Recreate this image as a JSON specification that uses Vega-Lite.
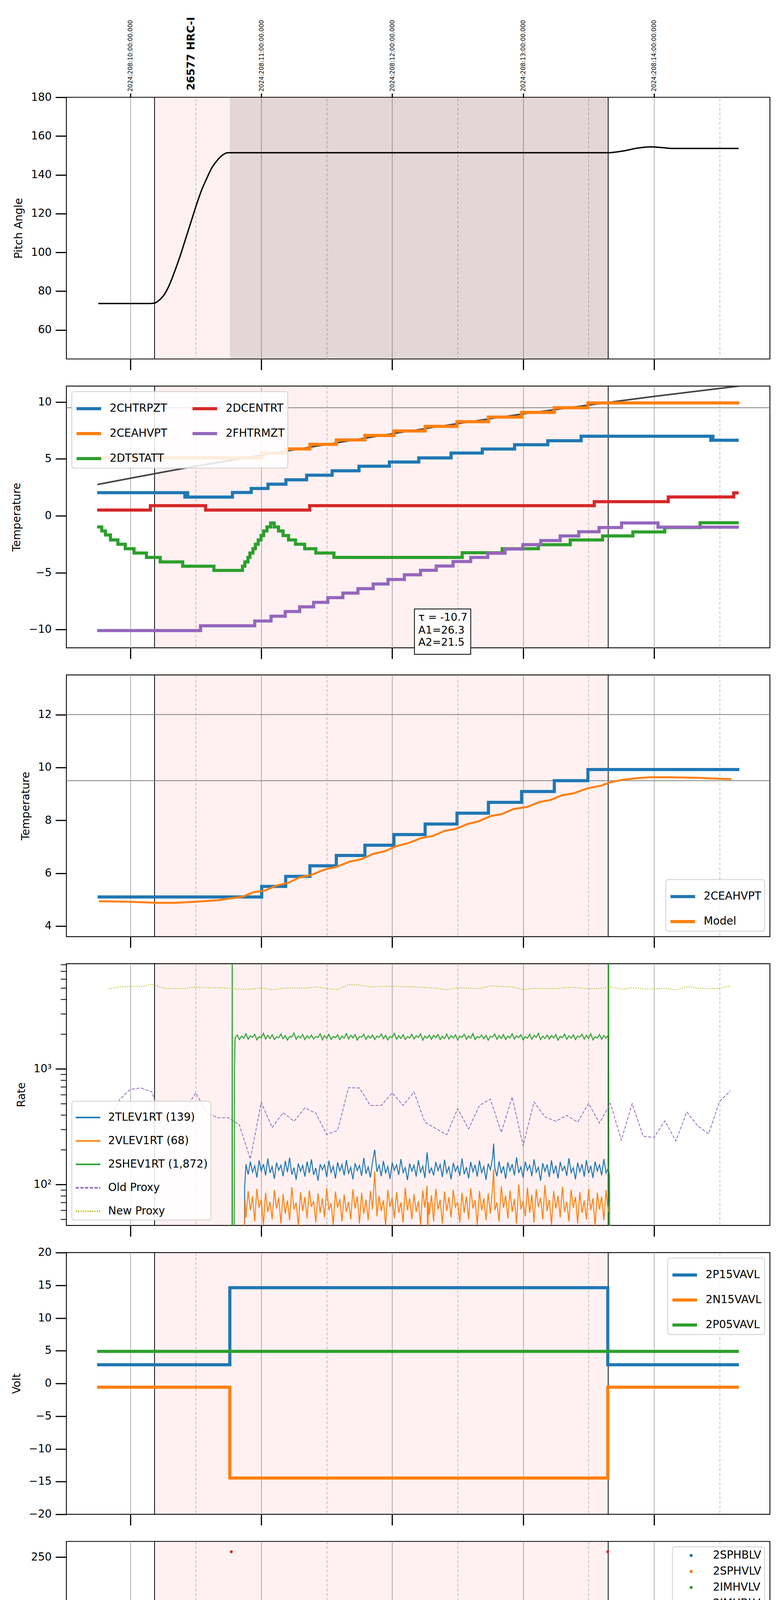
{
  "$schema": "https://vega.github.io/schema/vega-lite/v6.json",
  "background": "white",
  "padding": {"left": 25, "top": 41, "right": 30, "bottom": 10},
  "bounds": "flush",
  "spacing": 69.4,
  "resolve": {"scale": {"x": "independent", "y": "independent", "color": "independent", "strokeDash": "independent"}},
  "config": {
    "font": "DejaVu Sans",
    "view": {"stroke": "black", "strokeWidth": 2.2},
    "axis": {"domain": false, "labelFont": "DejaVu Sans", "labelFontSize": 27.8, "labelColor": "black", "titleFont": "DejaVu Sans", "titleFontSize": 27.8, "titleFontWeight": "normal", "titleColor": "black", "tickColor": "black", "tickWidth": 3, "tickSize": 28, "labelOverlap": false, "labelFlush": false, "labelBound": false, "labelLimit": 500, "grid": false},
    "axisY": {"labelPadding": 10, "titlePadding": 16},
    "axisX": {"labelPadding": 9},
    "legend": {"labelFont": "DejaVu Sans", "labelFontSize": 27.8, "labelColor": "black", "symbolType": "stroke", "symbolSize": 3969, "symbolStrokeWidth": 8, "fillColor": "rgba(255,255,255,0.85)", "strokeColor": "#d0d0d0", "strokeWidth": 2, "cornerRadius": 6, "padding": 8, "rowPadding": 12, "labelOffset": 18, "offset": 14, "labelLimit": 500}
  },
  "datasets": {
    "shade": [{"t": 371.1, "t2": 579.0}],
    "dark": [{"t": 405.6, "t2": 579.0}],
    "vlines": [{"t": 371.1}, {"t": 579.0}],
    "pitch": [{"t":345.3,"v":73.6},{"t":368.6,"v":73.6},{"t":371.0,"v":73.8},{"t":373.4,"v":75.5},{"t":375.8,"v":78.6},{"t":378.2,"v":84.0},{"t":380.6,"v":91.0},{"t":383.0,"v":98.7},{"t":385.4,"v":107.2},{"t":387.8,"v":115.7},{"t":390.2,"v":124.2},{"t":392.6,"v":131.9},{"t":395.0,"v":138.1},{"t":397.3,"v":143.5},{"t":399.7,"v":147.3},{"t":402.1,"v":150.0},{"t":404.5,"v":151.4},{"t":406.9,"v":151.4},{"t":578.9,"v":151.4},{"t":585.8,"v":152.3},{"t":592.6,"v":153.8},{"t":598.3,"v":154.4},{"t":604.0,"v":154.0},{"t":608.6,"v":153.6},{"t":638.8,"v":153.6}],
    "chtr": [{"t":344.8,"v":2.03},{"t":385.0,"v":1.65},{"t":385.5,"v":2.03},{"t":386.3,"v":1.65},{"t":406.8,"v":2.05},{"t":415.4,"v":2.4},{"t":423.1,"v":2.78},{"t":431.3,"v":3.17},{"t":440.8,"v":3.57},{"t":452.5,"v":3.96},{"t":464.8,"v":4.36},{"t":478.7,"v":4.73},{"t":492.2,"v":5.09},{"t":507.0,"v":5.52},{"t":521.3,"v":5.87},{"t":536.1,"v":6.25},{"t":551.3,"v":6.6},{"t":566.6,"v":6.99},{"t":626.0,"v":6.64},{"t":626.4,"v":6.99},{"t":627.0,"v":6.64},{"t":638.8,"v":6.64}],
    "ceah": [{"t":345.0,"v":5.1},{"t":420.2,"v":5.5},{"t":431.2,"v":5.88},{"t":442.3,"v":6.28},{"t":454.4,"v":6.67},{"t":467.5,"v":7.06},{"t":480.8,"v":7.46},{"t":495.1,"v":7.86},{"t":509.7,"v":8.27},{"t":524.1,"v":8.68},{"t":539.3,"v":9.09},{"t":554.3,"v":9.5},{"t":569.7,"v":9.92},{"t":639.1,"v":9.92}],
    "dtst": [{"t":344.8,"v":-0.98},{"t":346.9,"v":-1.33},{"t":348.6,"v":-1.68},{"t":350.9,"v":-2.12},{"t":354.3,"v":-2.5},{"t":357.7,"v":-2.89},{"t":361.7,"v":-3.27},{"t":367.4,"v":-3.66},{"t":373.7,"v":-4.05},{"t":384.0,"v":-4.43},{"t":398.3,"v":-4.8},{"t":411.4,"v":-4.43},{"t":412.5,"v":-4.05},{"t":413.9,"v":-3.66},{"t":414.8,"v":-3.27},{"t":416.2,"v":-2.89},{"t":417.3,"v":-2.5},{"t":418.6,"v":-2.12},{"t":419.9,"v":-1.73},{"t":421.1,"v":-1.33},{"t":422.6,"v":-0.98},{"t":424.3,"v":-0.63},{"t":425.9,"v":-0.98},{"t":427.9,"v":-1.33},{"t":430.0,"v":-1.73},{"t":432.5,"v":-2.12},{"t":435.7,"v":-2.5},{"t":439.9,"v":-2.89},{"t":445.0,"v":-3.27},{"t":453.3,"v":-3.66},{"t":512.1,"v":-3.24},{"t":530.4,"v":-2.89},{"t":547.0,"v":-2.54},{"t":561.6,"v":-2.12},{"t":576.4,"v":-1.77},{"t":590.3,"v":-1.42},{"t":604.9,"v":-1.03},{"t":621.1,"v":-0.61},{"t":638.8,"v":-0.61}],
    "dcen": [{"t":344.8,"v":0.51},{"t":369.2,"v":0.89},{"t":394.5,"v":0.51},{"t":442.2,"v":0.89},{"t":572.6,"v":1.24},{"t":606.5,"v":1.66},{"t":636.5,"v":2.02},{"t":638.8,"v":2.02}],
    "fhtr": [{"t":344.8,"v":-10.08},{"t":392.2,"v":-9.66},{"t":417.0,"v":-9.24},{"t":424.5,"v":-8.82},{"t":431.0,"v":-8.41},{"t":437.6,"v":-8.0},{"t":444.0,"v":-7.6},{"t":450.5,"v":-7.19},{"t":457.4,"v":-6.79},{"t":464.3,"v":-6.4},{"t":471.3,"v":-5.99},{"t":478.1,"v":-5.6},{"t":485.6,"v":-5.18},{"t":493.0,"v":-4.79},{"t":500.2,"v":-4.41},{"t":507.9,"v":-4.02},{"t":516.0,"v":-3.66},{"t":523.8,"v":-3.29},{"t":531.7,"v":-2.92},{"t":539.9,"v":-2.53},{"t":548.1,"v":-2.17},{"t":557.0,"v":-1.77},{"t":565.5,"v":-1.4},{"t":574.8,"v":-1.03},{"t":585.1,"v":-0.63},{"t":601.8,"v":-1.0},{"t":638.9,"v":-1.0}],
    "trend": [{"t":344.9,"v":2.75},{"t":390,"v":4.36},{"t":419.9,"v":5.32},{"t":479.6,"v":7.2},{"t":539.9,"v":8.95},{"t":578.9,"v":9.96},{"t":599.8,"v":10.49},{"t":638.8,"v":11.4}],
    "fitbox": [{"t":490.2,"t2":516.0,"v":-12.17,"v2":-8.19}],
    "fittext": [{"t":492.0,"v":-8.94,"txt":"τ = -10.7"},{"t":492.0,"v":-10.06,"txt":"A1=26.3"},{"t":492.0,"v":-11.14,"txt":"A2=21.5"}],
    "hlines2": [{"v": 9.5}],
    "hlines3": [{"v": 12}, {"v": 9.5}],
    "model": [{"t":345.6,"v":4.94},{"t":359.4,"v":4.92},{"t":372.0,"v":4.88},{"t":380.5,"v":4.88},{"t":390.0,"v":4.92},{"t":400.5,"v":4.98},{"t":405.8,"v":5.05},{"t":411.1,"v":5.1},{"t":416.4,"v":5.28},{"t":421.7,"v":5.34},{"t":426.9,"v":5.53},{"t":432.2,"v":5.63},{"t":437.5,"v":5.84},{"t":442.8,"v":5.93},{"t":449.1,"v":6.14},{"t":454.4,"v":6.24},{"t":460.7,"v":6.44},{"t":466.0,"v":6.53},{"t":471.3,"v":6.73},{"t":476.6,"v":6.83},{"t":481.8,"v":7.02},{"t":487.1,"v":7.13},{"t":493.4,"v":7.33},{"t":498.7,"v":7.41},{"t":504.0,"v":7.6},{"t":509.3,"v":7.68},{"t":514.6,"v":7.86},{"t":519.8,"v":7.97},{"t":525.1,"v":8.16},{"t":530.4,"v":8.24},{"t":535.7,"v":8.43},{"t":542.0,"v":8.51},{"t":547.3,"v":8.69},{"t":552.6,"v":8.77},{"t":557.9,"v":8.95},{"t":563.1,"v":9.02},{"t":569.5,"v":9.21},{"t":575.8,"v":9.31},{"t":580.0,"v":9.44},{"t":585.3,"v":9.53},{"t":591.6,"v":9.59},{"t":598.0,"v":9.63},{"t":606.4,"v":9.63},{"t":619.1,"v":9.61},{"t":627.5,"v":9.58},{"t":635.5,"v":9.56}],
    "oldproxy": [{"t":350,"v":340},{"t":355,"v":541},{"t":360,"v":666},{"t":365,"v":683},{"t":370,"v":631},{"t":375,"v":297},{"t":380,"v":393},{"t":385,"v":440},{"t":390,"v":620},{"t":395,"v":422},{"t":400,"v":378},{"t":405,"v":378},{"t":410,"v":328},{"t":415,"v":166},{"t":420,"v":513},{"t":425,"v":311},{"t":430,"v":419},{"t":435,"v":352},{"t":440,"v":460},{"t":445,"v":414},{"t":450,"v":271},{"t":455,"v":294},{"t":460,"v":688},{"t":465,"v":683},{"t":470,"v":483},{"t":475,"v":483},{"t":480,"v":620},{"t":485,"v":483},{"t":490,"v":631},{"t":495,"v":346},{"t":500,"v":305},{"t":505,"v":269},{"t":510,"v":452},{"t":515,"v":303},{"t":520,"v":483},{"t":525,"v":547},{"t":530,"v":282},{"t":535,"v":571},{"t":540,"v":216},{"t":545,"v":518},{"t":550,"v":385},{"t":555,"v":352},{"t":560,"v":396},{"t":565,"v":346},{"t":570,"v":504},{"t":575,"v":340},{"t":580,"v":504},{"t":585,"v":242},{"t":590,"v":500},{"t":595,"v":262},{"t":600,"v":255},{"t":605,"v":355},{"t":610,"v":238},{"t":615,"v":425},{"t":620,"v":322},{"t":625,"v":274},{"t":630,"v":522},{"t":635,"v":647}],
    "newproxy": [{"t":350,"v":4886},{"t":355,"v":5117},{"t":360,"v":5150},{"t":365,"v":5150},{"t":370,"v":5395},{"t":375,"v":4975},{"t":380,"v":4940},{"t":385,"v":4940},{"t":390,"v":5117},{"t":395,"v":5025},{"t":400,"v":5025},{"t":405,"v":4975},{"t":410,"v":4886},{"t":415,"v":4886},{"t":420,"v":5000},{"t":425,"v":4834},{"t":430,"v":4975},{"t":435,"v":5000},{"t":440,"v":4975},{"t":445,"v":5117},{"t":450,"v":4940},{"t":455,"v":4834},{"t":460,"v":5346},{"t":465,"v":5300},{"t":470,"v":5117},{"t":475,"v":5150},{"t":480,"v":5190},{"t":485,"v":5117},{"t":490,"v":5117},{"t":495,"v":5059},{"t":500,"v":4975},{"t":505,"v":4834},{"t":510,"v":5025},{"t":515,"v":4975},{"t":520,"v":4940},{"t":525,"v":5210},{"t":530,"v":5150},{"t":535,"v":5117},{"t":540,"v":4852},{"t":545,"v":4975},{"t":550,"v":4940},{"t":555,"v":4940},{"t":560,"v":5059},{"t":565,"v":5025},{"t":570,"v":4921},{"t":575,"v":4940},{"t":580,"v":5117},{"t":585,"v":4886},{"t":590,"v":5025},{"t":595,"v":4921},{"t":600,"v":4886},{"t":605,"v":4975},{"t":610,"v":4801},{"t":615,"v":5150},{"t":620,"v":4975},{"t":625,"v":4940},{"t":630,"v":4975},{"t":635,"v":5250}],
    "shev": [{"t":406.6,"v":30},{"t":406.7,"v":30000},{"t":406.8,"v":30},{"t":407.6,"v":30},{"t":407.7,"v":900},{"t":408,"v":1850},{"t":409,"v":1960},{"t":410,"v":1790},{"t":411,"v":1920},{"t":412,"v":1840},{"t":413,"v":2010},{"t":414,"v":1800},{"t":415,"v":1930},{"t":416,"v":1870},{"t":417,"v":1990},{"t":418,"v":1780},{"t":419,"v":1900},{"t":420,"v":1850},{"t":421,"v":2030},{"t":422,"v":1810},{"t":423,"v":1950},{"t":424,"v":1830},{"t":425,"v":1970},{"t":426,"v":1790},{"t":427,"v":1890},{"t":428,"v":1860},{"t":429,"v":2000},{"t":430,"v":1820},{"t":431,"v":1940},{"t":432,"v":1770},{"t":433,"v":1910},{"t":434,"v":1880},{"t":435,"v":2040},{"t":436,"v":1800},{"t":437,"v":1920},{"t":438,"v":1850},{"t":439,"v":1980},{"t":440,"v":1790},{"t":441,"v":1930},{"t":442,"v":1840},{"t":443,"v":1960},{"t":444,"v":1810},{"t":445,"v":1900},{"t":446,"v":1870},{"t":447,"v":2010},{"t":448,"v":1780},{"t":449,"v":1940},{"t":450,"v":1830},{"t":451,"v":1990},{"t":452,"v":1800},{"t":453,"v":1910},{"t":454,"v":1860},{"t":455,"v":1970},{"t":456,"v":1790},{"t":457,"v":1920},{"t":458,"v":1840},{"t":459,"v":2020},{"t":460,"v":1810},{"t":461,"v":1950},{"t":462,"v":1850},{"t":463,"v":1980},{"t":464,"v":1770},{"t":465,"v":1900},{"t":466,"v":1880},{"t":467,"v":1990},{"t":468,"v":1800},{"t":469,"v":1930},{"t":470,"v":1840},{"t":471,"v":1960},{"t":472,"v":1790},{"t":473,"v":1920},{"t":474,"v":1870},{"t":475,"v":2000},{"t":476,"v":1820},{"t":477,"v":1950},{"t":478,"v":1780},{"t":479,"v":1910},{"t":480,"v":1860},{"t":481,"v":2030},{"t":482,"v":1800},{"t":483,"v":1940},{"t":484,"v":1830},{"t":485,"v":1970},{"t":486,"v":1790},{"t":487,"v":1900},{"t":488,"v":1850},{"t":489,"v":1990},{"t":490,"v":1810},{"t":491,"v":1930},{"t":492,"v":1870},{"t":493,"v":2010},{"t":494,"v":1770},{"t":495,"v":1920},{"t":496,"v":1840},{"t":497,"v":1960},{"t":498,"v":1800},{"t":499,"v":1950},{"t":500,"v":1860},{"t":501,"v":1980},{"t":502,"v":1790},{"t":503,"v":1910},{"t":504,"v":1830},{"t":505,"v":2000},{"t":506,"v":1810},{"t":507,"v":1940},{"t":508,"v":1850},{"t":509,"v":1970},{"t":510,"v":1780},{"t":511,"v":1920},{"t":512,"v":1870},{"t":513,"v":1990},{"t":514,"v":1800},{"t":515,"v":1930},{"t":516,"v":1840},{"t":517,"v":2020},{"t":518,"v":1790},{"t":519,"v":1900},{"t":520,"v":1860},{"t":521,"v":1960},{"t":522,"v":1820},{"t":523,"v":1950},{"t":524,"v":1770},{"t":525,"v":1910},{"t":526,"v":1880},{"t":527,"v":2000},{"t":528,"v":1800},{"t":529,"v":1940},{"t":530,"v":1830},{"t":531,"v":1980},{"t":532,"v":1790},{"t":533,"v":1920},{"t":534,"v":1850},{"t":535,"v":2010},{"t":536,"v":1810},{"t":537,"v":1930},{"t":538,"v":1860},{"t":539,"v":1970},{"t":540,"v":1780},{"t":541,"v":1900},{"t":542,"v":1840},{"t":543,"v":1990},{"t":544,"v":1800},{"t":545,"v":1950},{"t":546,"v":1870},{"t":547,"v":2030},{"t":548,"v":1790},{"t":549,"v":1920},{"t":550,"v":1830},{"t":551,"v":1960},{"t":552,"v":1810},{"t":553,"v":1940},{"t":554,"v":1850},{"t":555,"v":1980},{"t":556,"v":1770},{"t":557,"v":1910},{"t":558,"v":1860},{"t":559,"v":2000},{"t":560,"v":1800},{"t":561,"v":1930},{"t":562,"v":1840},{"t":563,"v":1970},{"t":564,"v":1790},{"t":565,"v":1920},{"t":566,"v":1880},{"t":567,"v":1990},{"t":568,"v":1810},{"t":569,"v":1950},{"t":570,"v":1830},{"t":571,"v":2010},{"t":572,"v":1780},{"t":573,"v":1900},{"t":574,"v":1850},{"t":575,"v":1980},{"t":576,"v":1800},{"t":577,"v":1940},{"t":578,"v":1840},{"t":579,"v":1960},{"t":579.2,"v":30000},{"t":579.3,"v":30}],
    "tlev": [{"t":412.3,"v":30},{"t":412.4,"v":95},{"t":413,"v":150},{"t":414,"v":122},{"t":415,"v":158},{"t":416,"v":128},{"t":417,"v":145},{"t":418,"v":115},{"t":419,"v":162},{"t":420,"v":131},{"t":421,"v":150},{"t":422,"v":120},{"t":423,"v":168},{"t":424,"v":126},{"t":425,"v":143},{"t":426,"v":112},{"t":427,"v":155},{"t":428,"v":133},{"t":429,"v":147},{"t":430,"v":118},{"t":431,"v":160},{"t":432,"v":128},{"t":433,"v":171},{"t":434,"v":122},{"t":435,"v":140},{"t":436,"v":110},{"t":437,"v":152},{"t":438,"v":130},{"t":439,"v":146},{"t":440,"v":117},{"t":441,"v":158},{"t":442,"v":126},{"t":443,"v":165},{"t":444,"v":121},{"t":445,"v":139},{"t":446,"v":108},{"t":447,"v":150},{"t":448,"v":134},{"t":449,"v":148},{"t":450,"v":116},{"t":451,"v":161},{"t":452,"v":127},{"t":453,"v":144},{"t":454,"v":113},{"t":455,"v":156},{"t":456,"v":131},{"t":457,"v":149},{"t":458,"v":120},{"t":459,"v":163},{"t":460,"v":125},{"t":461,"v":141},{"t":462,"v":111},{"t":463,"v":153},{"t":464,"v":132},{"t":465,"v":146},{"t":466,"v":119},{"t":467,"v":170},{"t":468,"v":124},{"t":469,"v":142},{"t":470,"v":115},{"t":471,"v":158},{"t":472,"v":200},{"t":473,"v":129},{"t":474,"v":147},{"t":475,"v":118},{"t":476,"v":160},{"t":477,"v":126},{"t":478,"v":143},{"t":479,"v":112},{"t":480,"v":155},{"t":481,"v":133},{"t":482,"v":148},{"t":483,"v":121},{"t":484,"v":166},{"t":485,"v":127},{"t":486,"v":140},{"t":487,"v":109},{"t":488,"v":152},{"t":489,"v":131},{"t":490,"v":147},{"t":491,"v":117},{"t":492,"v":162},{"t":493,"v":128},{"t":494,"v":144},{"t":495,"v":114},{"t":496,"v":190},{"t":497,"v":125},{"t":498,"v":139},{"t":499,"v":120},{"t":500,"v":157},{"t":501,"v":132},{"t":502,"v":149},{"t":503,"v":116},{"t":504,"v":164},{"t":505,"v":126},{"t":506,"v":142},{"t":507,"v":111},{"t":508,"v":154},{"t":509,"v":130},{"t":510,"v":145},{"t":511,"v":119},{"t":512,"v":168},{"t":513,"v":123},{"t":514,"v":141},{"t":515,"v":113},{"t":516,"v":157},{"t":517,"v":129},{"t":518,"v":148},{"t":519,"v":117},{"t":520,"v":161},{"t":521,"v":127},{"t":522,"v":143},{"t":523,"v":110},{"t":524,"v":152},{"t":525,"v":134},{"t":526,"v":170},{"t":526.5,"v":226},{"t":527,"v":140},{"t":528,"v":118},{"t":529,"v":159},{"t":530,"v":125},{"t":531,"v":144},{"t":532,"v":112},{"t":533,"v":156},{"t":534,"v":131},{"t":535,"v":150},{"t":536,"v":120},{"t":537,"v":172},{"t":538,"v":126},{"t":539,"v":142},{"t":540,"v":115},{"t":541,"v":158},{"t":542,"v":133},{"t":543,"v":147},{"t":544,"v":118},{"t":545,"v":165},{"t":546,"v":128},{"t":547,"v":141},{"t":548,"v":108},{"t":549,"v":153},{"t":550,"v":130},{"t":551,"v":149},{"t":552,"v":116},{"t":553,"v":162},{"t":554,"v":124},{"t":555,"v":146},{"t":556,"v":113},{"t":557,"v":157},{"t":558,"v":132},{"t":559,"v":144},{"t":560,"v":119},{"t":561,"v":169},{"t":562,"v":127},{"t":563,"v":140},{"t":564,"v":111},{"t":565,"v":155},{"t":566,"v":129},{"t":567,"v":150},{"t":568,"v":117},{"t":569,"v":163},{"t":570,"v":125},{"t":571,"v":145},{"t":572,"v":114},{"t":573,"v":158},{"t":574,"v":131},{"t":575,"v":148},{"t":576,"v":120},{"t":577,"v":166},{"t":578,"v":126},{"t":579,"v":139},{"t":579.6,"v":120},{"t":579.7,"v":30}],
    "vlev": [{"t":412.3,"v":30},{"t":412.6,"v":75},{"t":413,"v":52},{"t":414,"v":88},{"t":415,"v":60},{"t":416,"v":79},{"t":417,"v":48},{"t":418,"v":92},{"t":419,"v":63},{"t":420,"v":74},{"t":421,"v":45},{"t":422,"v":85},{"t":423,"v":58},{"t":424,"v":71},{"t":425,"v":50},{"t":426,"v":90},{"t":427,"v":62},{"t":428,"v":77},{"t":429,"v":46},{"t":430,"v":83},{"t":431,"v":56},{"t":432,"v":73},{"t":433,"v":49},{"t":434,"v":95},{"t":435,"v":61},{"t":436,"v":70},{"t":437,"v":44},{"t":438,"v":86},{"t":439,"v":59},{"t":440,"v":78},{"t":441,"v":51},{"t":442,"v":89},{"t":443,"v":64},{"t":444,"v":72},{"t":445,"v":47},{"t":446,"v":84},{"t":447,"v":57},{"t":448,"v":76},{"t":449,"v":52},{"t":450,"v":93},{"t":451,"v":60},{"t":452,"v":69},{"t":453,"v":45},{"t":454,"v":87},{"t":455,"v":63},{"t":456,"v":75},{"t":457,"v":48},{"t":458,"v":82},{"t":459,"v":58},{"t":460,"v":71},{"t":461,"v":50},{"t":462,"v":91},{"t":463,"v":62},{"t":464,"v":79},{"t":465,"v":46},{"t":466,"v":85},{"t":467,"v":56},{"t":468,"v":74},{"t":469,"v":49},{"t":470,"v":88},{"t":471,"v":61},{"t":472,"v":130},{"t":473,"v":53},{"t":474,"v":80},{"t":475,"v":59},{"t":476,"v":73},{"t":477,"v":44},{"t":478,"v":90},{"t":479,"v":64},{"t":480,"v":77},{"t":481,"v":51},{"t":482,"v":86},{"t":483,"v":57},{"t":484,"v":70},{"t":485,"v":47},{"t":486,"v":94},{"t":487,"v":60},{"t":488,"v":76},{"t":489,"v":50},{"t":490,"v":83},{"t":491,"v":58},{"t":492,"v":72},{"t":493,"v":45},{"t":494,"v":89},{"t":495,"v":63},{"t":496,"v":98},{"t":496.3,"v":30},{"t":496.6,"v":70},{"t":497,"v":55},{"t":498,"v":81},{"t":499,"v":48},{"t":500,"v":92},{"t":501,"v":61},{"t":502,"v":74},{"t":503,"v":46},{"t":504,"v":87},{"t":505,"v":59},{"t":506,"v":78},{"t":507,"v":52},{"t":508,"v":90},{"t":509,"v":64},{"t":510,"v":71},{"t":511,"v":47},{"t":512,"v":85},{"t":513,"v":57},{"t":514,"v":79},{"t":515,"v":50},{"t":516,"v":93},{"t":517,"v":62},{"t":518,"v":73},{"t":519,"v":45},{"t":520,"v":88},{"t":521,"v":60},{"t":522,"v":76},{"t":523,"v":49},{"t":524,"v":84},{"t":525,"v":56},{"t":526,"v":95},{"t":526.5,"v":136},{"t":527,"v":60},{"t":528,"v":70},{"t":529,"v":48},{"t":530,"v":97},{"t":531,"v":63},{"t":532,"v":80},{"t":533,"v":51},{"t":534,"v":89},{"t":535,"v":58},{"t":536,"v":75},{"t":537,"v":46},{"t":538,"v":100},{"t":539,"v":61},{"t":540,"v":72},{"t":541,"v":53},{"t":542,"v":94},{"t":543,"v":57},{"t":544,"v":82},{"t":545,"v":47},{"t":546,"v":91},{"t":547,"v":64},{"t":548,"v":77},{"t":549,"v":50},{"t":550,"v":99},{"t":551,"v":59},{"t":552,"v":74},{"t":553,"v":45},{"t":554,"v":88},{"t":555,"v":62},{"t":556,"v":80},{"t":557,"v":52},{"t":558,"v":96},{"t":559,"v":58},{"t":560,"v":71},{"t":561,"v":48},{"t":562,"v":90},{"t":563,"v":63},{"t":564,"v":78},{"t":565,"v":46},{"t":566,"v":86},{"t":567,"v":57},{"t":568,"v":73},{"t":569,"v":50},{"t":570,"v":92},{"t":571,"v":60},{"t":572,"v":76},{"t":573,"v":44},{"t":574,"v":85},{"t":575,"v":61},{"t":576,"v":79},{"t":577,"v":49},{"t":578,"v":90},{"t":579,"v":58},{"t":579.5,"v":70},{"t":579.7,"v":30}],
    "p15": [{"t":344.8,"v":2.85},{"t":405.6,"v":14.63},{"t":578.8,"v":2.85},{"t":638.9,"v":2.85}],
    "n15": [{"t":344.8,"v":-0.58},{"t":405.6,"v":-14.46},{"t":578.8,"v":-0.58},{"t":638.9,"v":-0.58}],
    "p05": [{"t":344.8,"v":4.9},{"t":638.9,"v":4.9}],
    "hvg": [{"t":408.8,"v":100},{"t":409.1,"v":98},{"t":409.4,"v":95},{"t":409.8,"v":91},{"t":410.1,"v":89},{"t":410.4,"v":86},{"t":410.7,"v":84},{"t":411.0,"v":82},{"t":411.4,"v":80},{"t":411.8,"v":79},{"t":488.6,"v":127},{"t":491.7,"v":127},{"t":515.6,"v":127},{"t":516.0,"v":127},{"t":412,"v":79},{"t":413,"v":79},{"t":414,"v":79},{"t":415,"v":79},{"t":416,"v":79},{"t":417,"v":79},{"t":418,"v":79},{"t":419,"v":79},{"t":420,"v":79},{"t":421,"v":79},{"t":422,"v":79},{"t":423,"v":79},{"t":424,"v":79},{"t":425,"v":79},{"t":426,"v":79},{"t":427,"v":79},{"t":428,"v":79},{"t":429,"v":79},{"t":430,"v":79},{"t":431,"v":79},{"t":432,"v":79},{"t":433,"v":79},{"t":434,"v":79},{"t":435,"v":79},{"t":436,"v":79},{"t":437,"v":79},{"t":438,"v":79},{"t":439,"v":79},{"t":440,"v":79},{"t":441,"v":79},{"t":442,"v":79},{"t":443,"v":79},{"t":444,"v":79},{"t":445,"v":79},{"t":446,"v":79},{"t":447,"v":79},{"t":448,"v":79},{"t":449,"v":79},{"t":450,"v":79},{"t":451,"v":79},{"t":452,"v":79},{"t":453,"v":79},{"t":454,"v":79},{"t":455,"v":79},{"t":456,"v":79},{"t":457,"v":79},{"t":458,"v":79},{"t":459,"v":79},{"t":460,"v":79},{"t":461,"v":79},{"t":462,"v":79},{"t":463,"v":79},{"t":464,"v":79},{"t":465,"v":79},{"t":466,"v":79},{"t":467,"v":79},{"t":468,"v":79},{"t":469,"v":79},{"t":470,"v":79},{"t":471,"v":79},{"t":472,"v":79},{"t":473,"v":79},{"t":474,"v":79},{"t":475,"v":79},{"t":476,"v":79},{"t":477,"v":79},{"t":478,"v":79},{"t":479,"v":79},{"t":480,"v":79},{"t":481,"v":79},{"t":482,"v":79},{"t":483,"v":79},{"t":484,"v":79},{"t":485,"v":79},{"t":486,"v":79},{"t":487,"v":79},{"t":488,"v":79},{"t":489,"v":79},{"t":490,"v":79},{"t":491,"v":79},{"t":492,"v":79},{"t":493,"v":79},{"t":494,"v":79},{"t":495,"v":79},{"t":496,"v":79},{"t":497,"v":79},{"t":498,"v":79},{"t":499,"v":79},{"t":500,"v":79},{"t":501,"v":79},{"t":502,"v":79},{"t":503,"v":79},{"t":504,"v":79},{"t":505,"v":79},{"t":506,"v":79},{"t":507,"v":79},{"t":508,"v":79},{"t":509,"v":79},{"t":510,"v":79},{"t":511,"v":79},{"t":512,"v":79},{"t":513,"v":79},{"t":514,"v":79},{"t":515,"v":79},{"t":516,"v":79},{"t":517,"v":79},{"t":518,"v":79},{"t":519,"v":79},{"t":520,"v":79},{"t":521,"v":79},{"t":522,"v":79},{"t":523,"v":79},{"t":524,"v":79},{"t":525,"v":79},{"t":526,"v":79},{"t":527,"v":79},{"t":528,"v":79},{"t":529,"v":79},{"t":530,"v":79},{"t":531,"v":79},{"t":532,"v":79},{"t":533,"v":79},{"t":534,"v":79},{"t":535,"v":79},{"t":536,"v":79},{"t":537,"v":79},{"t":538,"v":79},{"t":539,"v":79},{"t":540,"v":79},{"t":541,"v":79},{"t":542,"v":79},{"t":543,"v":79},{"t":544,"v":79},{"t":545,"v":79},{"t":546,"v":79},{"t":547,"v":79},{"t":548,"v":79},{"t":549,"v":79},{"t":550,"v":79},{"t":551,"v":79},{"t":552,"v":79},{"t":553,"v":79},{"t":554,"v":79},{"t":555,"v":79},{"t":556,"v":79},{"t":557,"v":79},{"t":558,"v":79},{"t":559,"v":79},{"t":560,"v":79},{"t":561,"v":79},{"t":562,"v":79},{"t":563,"v":79},{"t":564,"v":79},{"t":565,"v":79},{"t":566,"v":79},{"t":567,"v":79},{"t":568,"v":79},{"t":569,"v":79},{"t":570,"v":79},{"t":571,"v":79},{"t":572,"v":79},{"t":573,"v":79},{"t":574,"v":79},{"t":575,"v":79},{"t":576,"v":79},{"t":577,"v":79},{"t":578,"v":79}],
    "hvr": [{"t":406.3,"v":255.5},{"t":408.8,"v":127.6},{"t":408.9,"v":123},{"t":409.0,"v":119},{"t":409.2,"v":105.5},{"t":409.3,"v":104},{"t":409.5,"v":101},{"t":409.7,"v":96},{"t":410.0,"v":91.5},{"t":410.3,"v":90},{"t":410.6,"v":89},{"t":411.0,"v":87},{"t":488.4,"v":79},{"t":491.1,"v":79},{"t":515.8,"v":79},{"t":578.8,"v":255.5},{"t":412,"v":86},{"t":413,"v":86},{"t":414,"v":86},{"t":415,"v":86},{"t":416,"v":86},{"t":417,"v":86},{"t":418,"v":86},{"t":419,"v":86},{"t":420,"v":86},{"t":421,"v":86},{"t":422,"v":86},{"t":423,"v":86},{"t":424,"v":86},{"t":425,"v":86},{"t":426,"v":86},{"t":427,"v":86},{"t":428,"v":86},{"t":429,"v":86},{"t":430,"v":86},{"t":431,"v":86},{"t":432,"v":86},{"t":433,"v":86},{"t":434,"v":86},{"t":435,"v":86},{"t":436,"v":86},{"t":437,"v":86},{"t":438,"v":86},{"t":439,"v":86},{"t":440,"v":86},{"t":441,"v":86},{"t":442,"v":86},{"t":443,"v":86},{"t":444,"v":86},{"t":445,"v":86},{"t":446,"v":86},{"t":447,"v":86},{"t":448,"v":86},{"t":449,"v":86},{"t":450,"v":86},{"t":451,"v":86},{"t":452,"v":86},{"t":453,"v":86},{"t":454,"v":86},{"t":455,"v":86},{"t":456,"v":86},{"t":457,"v":86},{"t":458,"v":86},{"t":459,"v":86},{"t":460,"v":86},{"t":461,"v":86},{"t":462,"v":86},{"t":463,"v":86},{"t":464,"v":86},{"t":465,"v":86},{"t":466,"v":86},{"t":467,"v":86},{"t":468,"v":86},{"t":469,"v":86},{"t":470,"v":86},{"t":471,"v":86},{"t":472,"v":86},{"t":473,"v":86},{"t":474,"v":86},{"t":475,"v":86},{"t":476,"v":86},{"t":477,"v":86},{"t":478,"v":86},{"t":479,"v":86},{"t":480,"v":86},{"t":481,"v":86},{"t":482,"v":86},{"t":483,"v":86},{"t":484,"v":86},{"t":485,"v":86},{"t":486,"v":86},{"t":487,"v":86},{"t":488,"v":86},{"t":489,"v":86},{"t":490,"v":86},{"t":491,"v":86},{"t":492,"v":86},{"t":493,"v":86},{"t":494,"v":86},{"t":495,"v":86},{"t":496,"v":86},{"t":497,"v":86},{"t":498,"v":86},{"t":499,"v":86},{"t":500,"v":86},{"t":501,"v":86},{"t":502,"v":86},{"t":503,"v":86},{"t":504,"v":86},{"t":505,"v":86},{"t":506,"v":86},{"t":507,"v":86},{"t":508,"v":86},{"t":509,"v":86},{"t":510,"v":86},{"t":511,"v":86},{"t":512,"v":86},{"t":513,"v":86},{"t":514,"v":86},{"t":515,"v":86},{"t":516,"v":86},{"t":517,"v":86},{"t":518,"v":86},{"t":519,"v":86},{"t":520,"v":86},{"t":521,"v":86},{"t":522,"v":86},{"t":523,"v":86},{"t":524,"v":86},{"t":525,"v":86},{"t":526,"v":86},{"t":527,"v":86},{"t":528,"v":86},{"t":529,"v":86},{"t":530,"v":86},{"t":531,"v":86},{"t":532,"v":86},{"t":533,"v":86},{"t":534,"v":86},{"t":535,"v":86},{"t":536,"v":86},{"t":537,"v":86},{"t":538,"v":86},{"t":539,"v":86},{"t":540,"v":86},{"t":541,"v":86},{"t":542,"v":86},{"t":543,"v":86},{"t":544,"v":86},{"t":545,"v":86},{"t":546,"v":86},{"t":547,"v":86},{"t":548,"v":86},{"t":549,"v":86},{"t":550,"v":86},{"t":551,"v":86},{"t":552,"v":86},{"t":553,"v":86},{"t":554,"v":86},{"t":555,"v":86},{"t":556,"v":86},{"t":557,"v":86},{"t":558,"v":86},{"t":559,"v":86},{"t":560,"v":86},{"t":561,"v":86},{"t":562,"v":86},{"t":563,"v":86},{"t":564,"v":86},{"t":565,"v":86},{"t":566,"v":86},{"t":567,"v":86},{"t":568,"v":86},{"t":569,"v":86},{"t":570,"v":86},{"t":571,"v":86},{"t":572,"v":86},{"t":573,"v":86},{"t":574,"v":86},{"t":575,"v":86},{"t":576,"v":86},{"t":577,"v":86},{"t":578,"v":86}],
    "spin": [{"t":406.7,"v":2.19},{"t":410.9,"v":2.71},{"t":412.4,"v":3.19},{"t":413.2,"v":3.67},{"t":414.1,"v":4.15},{"t":415.1,"v":4.63},{"t":416.6,"v":5.11},{"t":417.9,"v":5.66},{"t":419.4,"v":6.21},{"t":420.2,"v":6.76},{"t":421.0,"v":7.31},{"t":422.5,"v":7.86},{"t":425.9,"v":7.31},{"t":427.8,"v":6.76},{"t":429.9,"v":6.21},{"t":432.5,"v":5.66},{"t":435.2,"v":5.11},{"t":438.4,"v":4.63},{"t":443.0,"v":4.15},{"t":449.3,"v":3.67},{"t":459.5,"v":3.16},{"t":486.3,"v":-3},{"t":486.8,"v":3.16},{"t":487.3,"v":-3},{"t":487.8,"v":3.16},{"t":488.3,"v":-3},{"t":488.8,"v":3.16},{"t":489.3,"v":-3},{"t":489.8,"v":3.16},{"t":490.3,"v":-3},{"t":490.8,"v":3.16},{"t":491.3,"v":-3},{"t":491.8,"v":3.16},{"t":492.3,"v":-3},{"t":492.8,"v":3.16},{"t":493.3,"v":-3},{"t":493.8,"v":3.16},{"t":494.3,"v":-3},{"t":494.8,"v":3.16},{"t":495.3,"v":-3},{"t":495.8,"v":3.16},{"t":509.4,"v":-3},{"t":509.6,"v":3.16},{"t":513.2,"v":-3},{"t":513.4,"v":3.16},{"t":515.9,"v":-3},{"t":516.1,"v":3.16},{"t":549.2,"v":3.67},{"t":578.1,"v":3.67}],
    "sphv": [{"t":405.5,"v":-5},{"t":405.6,"v":13.29},{"t":443.2,"v":13.61},{"t":459.5,"v":13.98},{"t":472.8,"v":14.28},{"t":486.3,"v":8.96},{"t":486.8,"v":14.28},{"t":487.3,"v":8.96},{"t":487.8,"v":14.28},{"t":488.3,"v":8.96},{"t":488.8,"v":14.28},{"t":489.3,"v":8.96},{"t":489.5,"v":3.3},{"t":489.7,"v":14.4},{"t":490.3,"v":9.24},{"t":490.8,"v":14.5},{"t":491.3,"v":9.24},{"t":491.8,"v":14.5},{"t":492.3,"v":9.24},{"t":492.8,"v":14.5},{"t":493.3,"v":9.24},{"t":493.8,"v":14.5},{"t":494.3,"v":9.24},{"t":494.8,"v":14.5},{"t":495.3,"v":9.24},{"t":495.8,"v":14.5},{"t":496.0,"v":14.66},{"t":498.1,"v":15.01},{"t":509.4,"v":9.58},{"t":509.6,"v":15.01},{"t":511.2,"v":15.35},{"t":513.2,"v":9.92},{"t":513.4,"v":15.35},{"t":515.9,"v":9.92},{"t":516.1,"v":15.35},{"t":523.9,"v":15.7},{"t":537.6,"v":16.04},{"t":550.3,"v":16.38},{"t":563.6,"v":16.73},{"t":576.6,"v":17.07},{"t":578.1,"v":17.07}],
    "imin": [{"t":406.7,"v":0.34},{"t":477.8,"v":0.78},{"t":486.3,"v":3.26},{"t":486.8,"v":0.78},{"t":487.3,"v":3.26},{"t":487.8,"v":0.78},{"t":488.3,"v":3.26},{"t":488.8,"v":0.78},{"t":489.3,"v":3.26},{"t":489.8,"v":0.78},{"t":490.3,"v":3.26},{"t":490.8,"v":0.78},{"t":491.3,"v":3.26},{"t":491.8,"v":0.78},{"t":492.3,"v":3.26},{"t":492.8,"v":0.78},{"t":493.3,"v":3.26},{"t":493.8,"v":0.78},{"t":494.3,"v":3.26},{"t":494.8,"v":0.78},{"t":495.3,"v":3.26},{"t":495.8,"v":0.78},{"t":509.4,"v":3.26},{"t":509.6,"v":0.78},{"t":513.2,"v":3.26},{"t":513.4,"v":0.78},{"t":515.9,"v":3.26},{"t":516.1,"v":0.78},{"t":541.8,"v":1.25},{"t":578.1,"v":1.25}],
    "imhv": [{"t":405.5,"v":-5},{"t":405.6,"v":12.6},{"t":419.4,"v":12.99},{"t":425.7,"v":13.32},{"t":431.6,"v":13.62},{"t":437.7,"v":13.95},{"t":444.1,"v":14.28},{"t":450.6,"v":14.64},{"t":458.8,"v":14.97},{"t":466.9,"v":15.31},{"t":475.3,"v":15.67},{"t":485.4,"v":16.1},{"t":485.9,"v":14.5},{"t":486.4,"v":16.1},{"t":486.9,"v":14.5},{"t":487.4,"v":16.1},{"t":487.9,"v":14.5},{"t":488.4,"v":16.1},{"t":488.9,"v":14.5},{"t":489.4,"v":16.1},{"t":489.9,"v":14.5},{"t":490.4,"v":16.1},{"t":490.9,"v":14.5},{"t":491.4,"v":16.1},{"t":491.9,"v":14.5},{"t":492.4,"v":16.1},{"t":492.9,"v":14.5},{"t":493.4,"v":16.1},{"t":493.9,"v":14.5},{"t":494.4,"v":16.1},{"t":494.9,"v":14.5},{"t":495.4,"v":16.1},{"t":495.9,"v":14.5},{"t":496.0,"v":16.38},{"t":504.9,"v":16.73},{"t":509.4,"v":14.9},{"t":509.6,"v":16.73},{"t":513.2,"v":14.9},{"t":513.4,"v":16.73},{"t":515.4,"v":17.07},{"t":515.9,"v":14.9},{"t":516.1,"v":17.07},{"t":527.7,"v":17.41},{"t":539.7,"v":17.78},{"t":551.7,"v":18.13},{"t":563.6,"v":18.48},{"t":577.1,"v":18.72},{"t":578.8,"v":25},{"t":578.9,"v":-5},{"t":579.0,"v":-5}],
    "frad": [{"t":425.2,"v":-12},{"t":425.3,"v":-10.53},{"t":432.0,"v":-10.08},{"t":438.8,"v":-9.65},{"t":445.7,"v":-9.22},{"t":453.1,"v":-8.81},{"t":460.1,"v":-8.4},{"t":467.5,"v":-8.0},{"t":474.9,"v":-7.59},{"t":483.1,"v":-7.18},{"t":491.1,"v":-6.77},{"t":498.9,"v":-6.38},{"t":508.0,"v":-5.98},{"t":516.9,"v":-5.6},{"t":524.9,"v":-5.21},{"t":533.4,"v":-4.81},{"t":542.4,"v":-4.43},{"t":551.3,"v":-4.03},{"t":560.8,"v":-3.66},{"t":570.3,"v":-3.28},{"t":578.8,"v":-2.91},{"t":594.6,"v":-3.28},{"t":638.9,"v":-3.28}],
    "fepr": [{"t":405.5,"v":-12},{"t":405.6,"v":-9.84},{"t":408.8,"v":-9.4},{"t":411.3,"v":-8.97},{"t":414.1,"v":-8.54},{"t":416.8,"v":-8.11},{"t":421.0,"v":-7.7},{"t":425.7,"v":-7.28},{"t":431.0,"v":-6.87},{"t":436.9,"v":-6.46},{"t":443.2,"v":-6.05},{"t":450.0,"v":-5.64},{"t":456.7,"v":-5.21},{"t":463.7,"v":-4.8},{"t":471.1,"v":-4.39},{"t":478.5,"v":-3.95},{"t":486.3,"v":-6.09},{"t":486.8,"v":-3.54},{"t":487.3,"v":-6.09},{"t":487.8,"v":-3.54},{"t":488.3,"v":-6.09},{"t":488.8,"v":-3.54},{"t":489.3,"v":-6.09},{"t":489.8,"v":-3.54},{"t":490.3,"v":-6.09},{"t":490.8,"v":-3.54},{"t":491.3,"v":-6.09},{"t":491.8,"v":-3.54},{"t":492.3,"v":-6.09},{"t":492.8,"v":-3.54},{"t":493.3,"v":-6.09},{"t":493.8,"v":-3.54},{"t":494.3,"v":-6.09},{"t":494.8,"v":-3.54},{"t":495.4,"v":-3.13},{"t":502.8,"v":-2.7},{"t":509.4,"v":-6.09},{"t":509.6,"v":-2.7},{"t":512.3,"v":-2.26},{"t":513.2,"v":-6.09},{"t":513.4,"v":-2.26},{"t":515.9,"v":-6.09},{"t":516.1,"v":-2.26},{"t":520.1,"v":-1.85},{"t":529.6,"v":-1.42},{"t":538.6,"v":-0.97},{"t":548.1,"v":-0.53},{"t":558.3,"v":-0.08},{"t":568.2,"v":0.35},{"t":578.3,"v":-0.99},{"t":578.6,"v":-0.99}],
    "fe00": [{"t":414.7,"v":-12},{"t":414.8,"v":-10.44},{"t":420.4,"v":-10.06},{"t":425.7,"v":-9.67},{"t":431.0,"v":-9.28},{"t":435.8,"v":-8.93},{"t":440.9,"v":-8.54},{"t":445.7,"v":-8.21},{"t":450.6,"v":-8.97},{"t":450.8,"v":-7.84},{"t":456.3,"v":-7.49},{"t":461.6,"v":-7.12},{"t":466.9,"v":-7.53},{"t":467.3,"v":-6.75},{"t":472.8,"v":-6.42},{"t":478.5,"v":-6.05},{"t":482.6,"v":-5.31},{"t":482.9,"v":-6.05},{"t":485.0,"v":-5.1},{"t":485.3,"v":-6.05},{"t":486.3,"v":2},{"t":486.7,"v":-12},{"t":487.1,"v":2},{"t":487.5,"v":-12},{"t":487.9,"v":2},{"t":488.3,"v":-12},{"t":488.7,"v":2},{"t":489.1,"v":-12},{"t":489.5,"v":2},{"t":489.9,"v":-12},{"t":490.3,"v":2},{"t":490.7,"v":-12},{"t":491.1,"v":2},{"t":491.5,"v":-12},{"t":491.9,"v":2},{"t":492.3,"v":-12},{"t":492.7,"v":2},{"t":493.1,"v":-12},{"t":493.5,"v":2},{"t":493.9,"v":-12},{"t":494.3,"v":2},{"t":494.7,"v":-12},{"t":495.1,"v":2},{"t":495.5,"v":-12},{"t":495.9,"v":2},{"t":496.3,"v":-12},{"t":496.4,"v":-5.02},{"t":502.8,"v":-4.67},{"t":509.4,"v":2},{"t":509.5,"v":-12},{"t":509.6,"v":-4.32},{"t":511.1,"v":2},{"t":511.2,"v":-12},{"t":511.3,"v":-4.32},{"t":513.2,"v":2},{"t":513.3,"v":-12},{"t":513.4,"v":-4.32},{"t":515.9,"v":2},{"t":516.0,"v":-12},{"t":516.1,"v":-4.32},{"t":516.5,"v":-3.99},{"t":521.3,"v":-3.62},{"t":527.7,"v":-3.28},{"t":535.1,"v":-2.92},{"t":541.4,"v":-2.59},{"t":548.1,"v":-2.24},{"t":555.5,"v":-1.93},{"t":562.5,"v":-1.6},{"t":569.3,"v":-1.3},{"t":576.6,"v":-0.99},{"t":578.4,"v":2},{"t":578.7,"v":-12},{"t":579.0,"v":2},{"t":579.3,"v":-12},{"t":579.6,"v":2},{"t":579.9,"v":-12},{"t":580.0,"v":-12}]
  },
  "vconcat": [
    {
      "width": 1801.6, "height": 670,
      "resolve": {"axis": {"x": "independent"}},
      "layer": [
        {"data": {"name": "shade"}, "mark": {"type": "rect", "color": "red", "opacity": 0.055}, "encoding": {"x": {"field": "t", "type": "quantitative", "scale": {"domain": [330.7, 653.1], "nice": false, "zero": false}, "axis": null}, "x2": {"field": "t2"}}},
        {"data": {"name": "dark"}, "mark": {"type": "rect", "color": "black", "opacity": 0.11}, "encoding": {"x": {"field": "t", "type": "quantitative", "axis": null}, "x2": {"field": "t2"}}},
        {"data": {"name": "vlines"}, "mark": {"type": "rule", "color": "black", "strokeWidth": 2}, "encoding": {"x": {"field": "t", "type": "quantitative", "axis": {"orient": "bottom", "values": [360,390,420,450,480,510,540,570,600,630], "labels": false, "title": null, "grid": true, "gridColor": "#b0b0b0", "gridWidth": {"condition": {"test": "datum.value % 60 == 0", "value": 2}, "value": 1.5}, "gridDash": {"condition": {"test": "datum.value % 60 == 0", "value": [1, 0]}, "value": [7, 5]}, "tickSize": {"condition": {"test": "datum.value % 60 == 0", "value": 28}, "value": 0}}}}},
        {"data": {"name": "pitch"}, "mark": {"type": "line", "color": "black", "strokeWidth": 3.5, "interpolate": "monotone", "clip": true}, "encoding": {
          "x": {"field": "t", "type": "quantitative", "axis": {"orient": "top", "values": [360, 387.8, 420, 480, 540, 600], "title": null, "grid": false, "labelAngle": 270, "labelLimit": 500, "labelExpr": "datum.value == 387.8 ? '26577 HRC-I' : '2024:208:' + (datum.value / 60 + 4) + ':00:00.000'", "labelFontSize": {"condition": {"test": "datum.value == 387.8", "value": 27}, "value": 15.5}, "labelFontWeight": {"condition": {"test": "datum.value == 387.8", "value": "bold"}, "value": "normal"}, "tickSize": {"condition": {"test": "datum.value == 387.8", "value": 0}, "value": 10}, "labelPadding": {"condition": {"test": "datum.value == 387.8", "value": 18}, "value": 5}}},
          "y": {"field": "v", "type": "quantitative", "scale": {"domain": [45, 180], "nice": false, "zero": false}, "axis": {"title": "Pitch Angle", "values": [60, 80, 100, 120, 140, 160, 180], "format": "d"}}}}
      ]
    },
    {
      "width": 1801.6, "height": 670,
      "encoding": {"x": {"field": "t", "type": "quantitative", "scale": {"domain": [330.7, 653.1], "nice": false, "zero": false}, "axis": {"values": [360,390,420,450,480,510,540,570,600,630], "labels": false, "title": null, "grid": true, "gridColor": "#b0b0b0", "gridWidth": {"condition": {"test": "datum.value % 60 == 0", "value": 2}, "value": 1.5}, "gridDash": {"condition": {"test": "datum.value % 60 == 0", "value": [1, 0]}, "value": [7, 5]}, "tickSize": {"condition": {"test": "datum.value % 60 == 0", "value": 28}, "value": 0}}}},
      "layer": [
        {"data": {"name": "shade"}, "mark": {"type": "rect", "color": "red", "opacity": 0.055}, "encoding": {"x2": {"field": "t2"}}},
        {"data": {"name": "vlines"}, "mark": {"type": "rule", "color": "black", "strokeWidth": 2}, "encoding": {}},
        {"data": {"name": "hlines2"}, "mark": {"type": "rule", "color": "#808080", "strokeWidth": 2}, "encoding": {"x": {"value": 0}, "x2": {"value": 1801.6}, "y": {"field": "v", "type": "quantitative", "scale": {"domain": [-11.6, 11.4], "nice": false, "zero": false}, "axis": {"title": "Temperature", "values": [-10, -5, 0, 5, 10], "format": "d"}}}},
        {"data": {"name": "trend"}, "mark": {"type": "line", "color": "#444444", "strokeWidth": 4, "interpolate": "monotone", "clip": true}, "encoding": {"y": {"field": "v", "type": "quantitative"}}},
        {"data": {"name": "chtr"}, "mark": {"type": "line", "strokeWidth": 8, "interpolate": "step-after", "clip": true}, "encoding": {"y": {"field": "v", "type": "quantitative"}, "color": {"datum": "2CHTRPZT", "type": "nominal", "scale": {"domain": ["2CHTRPZT", "2CEAHVPT", "2DTSTATT", "2DCENTRT", "2FHTRMZT"], "range": ["#1f77b4", "#ff7f0e", "#2ca02c", "#d62728", "#9467bd"]}, "legend": {"title": null, "orient": "top-left", "columns": 2, "columnPadding": 48}}}},
        {"data": {"name": "ceah"}, "mark": {"type": "line", "strokeWidth": 8, "interpolate": "step-after", "clip": true}, "encoding": {"y": {"field": "v", "type": "quantitative"}, "color": {"datum": "2CEAHVPT", "type": "nominal"}}},
        {"data": {"name": "dtst"}, "mark": {"type": "line", "strokeWidth": 8, "interpolate": "step-after", "clip": true}, "encoding": {"y": {"field": "v", "type": "quantitative"}, "color": {"datum": "2DTSTATT", "type": "nominal"}}},
        {"data": {"name": "dcen"}, "mark": {"type": "line", "strokeWidth": 8, "interpolate": "step-after", "clip": true}, "encoding": {"y": {"field": "v", "type": "quantitative"}, "color": {"datum": "2DCENTRT", "type": "nominal"}}},
        {"data": {"name": "fhtr"}, "mark": {"type": "line", "strokeWidth": 8, "interpolate": "step-after", "clip": true}, "encoding": {"y": {"field": "v", "type": "quantitative"}, "color": {"datum": "2FHTRMZT", "type": "nominal"}}},
        {"data": {"name": "fitbox"}, "mark": {"type": "rect", "fill": "white", "stroke": "black", "strokeWidth": 2}, "encoding": {"x2": {"field": "t2"}, "y": {"field": "v", "type": "quantitative"}, "y2": {"field": "v2"}}},
        {"data": {"name": "fittext"}, "mark": {"type": "text", "align": "left", "baseline": "middle", "fontSize": 27, "font": "DejaVu Sans", "color": "black"}, "encoding": {"y": {"field": "v", "type": "quantitative"}, "text": {"field": "txt"}}}
      ]
    },
    {
      "width": 1801.6, "height": 670,
      "encoding": {"x": {"field": "t", "type": "quantitative", "scale": {"domain": [330.7, 653.1], "nice": false, "zero": false}, "axis": {"values": [360,390,420,450,480,510,540,570,600,630], "labels": false, "title": null, "grid": true, "gridColor": "#b0b0b0", "gridWidth": {"condition": {"test": "datum.value % 60 == 0", "value": 2}, "value": 1.5}, "gridDash": {"condition": {"test": "datum.value % 60 == 0", "value": [1, 0]}, "value": [7, 5]}, "tickSize": {"condition": {"test": "datum.value % 60 == 0", "value": 28}, "value": 0}}}},
      "layer": [
        {"data": {"name": "shade"}, "mark": {"type": "rect", "color": "red", "opacity": 0.055}, "encoding": {"x2": {"field": "t2"}}},
        {"data": {"name": "vlines"}, "mark": {"type": "rule", "color": "black", "strokeWidth": 2}, "encoding": {}},
        {"data": {"name": "hlines3"}, "mark": {"type": "rule", "color": "#808080", "strokeWidth": 2}, "encoding": {"x": {"value": 0}, "x2": {"value": 1801.6}, "y": {"field": "v", "type": "quantitative", "scale": {"domain": [3.6, 13.5], "nice": false, "zero": false}, "axis": {"title": "Temperature", "values": [4, 6, 8, 10, 12], "format": "d"}}}},
        {"data": {"name": "ceah"}, "mark": {"type": "line", "strokeWidth": 8, "interpolate": "step-after", "clip": true}, "encoding": {"y": {"field": "v", "type": "quantitative"}, "color": {"datum": "2CEAHVPT", "type": "nominal", "scale": {"domain": ["2CEAHVPT", "Model"], "range": ["#1f77b4", "#ff7f0e"]}, "legend": {"title": null, "orient": "bottom-right"}}}},
        {"data": {"name": "model"}, "mark": {"type": "line", "strokeWidth": 5, "clip": true}, "encoding": {"y": {"field": "v", "type": "quantitative"}, "color": {"datum": "Model", "type": "nominal"}}}
      ]
    },
    {
      "width": 1801.6, "height": 670,
      "encoding": {"x": {"field": "t", "type": "quantitative", "scale": {"domain": [330.7, 653.1], "nice": false, "zero": false}, "axis": {"values": [360,390,420,450,480,510,540,570,600,630], "labels": false, "title": null, "grid": true, "gridColor": "#b0b0b0", "gridWidth": {"condition": {"test": "datum.value % 60 == 0", "value": 2}, "value": 1.5}, "gridDash": {"condition": {"test": "datum.value % 60 == 0", "value": [1, 0]}, "value": [7, 5]}, "tickSize": {"condition": {"test": "datum.value % 60 == 0", "value": 28}, "value": 0}}}},
      "layer": [
        {"data": {"name": "shade"}, "mark": {"type": "rect", "color": "red", "opacity": 0.055}, "encoding": {"x2": {"field": "t2"}}},
        {"data": {"name": "vlines"}, "mark": {"type": "rule", "color": "black", "strokeWidth": 2}, "encoding": {}},
        {"data": {"name": "tlev"}, "mark": {"type": "line", "strokeWidth": 2.5, "clip": true}, "encoding": {
          "y": {"field": "v", "type": "quantitative", "scale": {"type": "log", "domain": [44.3, 8100], "nice": false}, "axis": {"title": "Rate", "values": [50,60,70,80,90,100,200,300,400,500,600,700,800,900,1000,2000,3000,4000,5000,6000,7000,8000], "labelExpr": "datum.value == 100 ? '10²' : datum.value == 1000 ? '10³' : ''", "tickSize": {"condition": {"test": "datum.value == 100 || datum.value == 1000", "value": 28}, "value": 15}, "tickWidth": {"condition": {"test": "datum.value == 100 || datum.value == 1000", "value": 3}, "value": 2}}},
          "color": {"datum": "2TLEV1RT (139)", "type": "nominal", "scale": {"domain": ["2TLEV1RT (139)", "2VLEV1RT (68)", "2SHEV1RT (1,872)", "Old Proxy", "New Proxy"], "range": ["#1f77b4", "#ff7f0e", "#2ca02c", "#9467bd", "#bcbd22"]}, "legend": {"title": null, "orient": "bottom-left", "symbolStrokeWidth": 4}},
          "strokeDash": {"datum": "2TLEV1RT (139)", "type": "nominal", "scale": {"domain": ["2TLEV1RT (139)", "2VLEV1RT (68)", "2SHEV1RT (1,872)", "Old Proxy", "New Proxy"], "range": [[1, 0], [1, 0], [1, 0], [8, 4], [3, 3]]}, "legend": {"title": null, "orient": "bottom-left", "symbolStrokeWidth": 4}}}},
        {"data": {"name": "vlev"}, "mark": {"type": "line", "strokeWidth": 2.5, "clip": true}, "encoding": {"y": {"field": "v", "type": "quantitative"}, "color": {"datum": "2VLEV1RT (68)", "type": "nominal"}, "strokeDash": {"datum": "2VLEV1RT (68)", "type": "nominal"}}},
        {"data": {"name": "shev"}, "mark": {"type": "line", "strokeWidth": 2.5, "clip": true}, "encoding": {"y": {"field": "v", "type": "quantitative"}, "color": {"datum": "2SHEV1RT (1,872)", "type": "nominal"}, "strokeDash": {"datum": "2SHEV1RT (1,872)", "type": "nominal"}}},
        {"data": {"name": "oldproxy"}, "mark": {"type": "line", "strokeWidth": 2, "clip": true}, "encoding": {"y": {"field": "v", "type": "quantitative"}, "color": {"datum": "Old Proxy", "type": "nominal"}, "strokeDash": {"datum": "Old Proxy", "type": "nominal"}}},
        {"data": {"name": "newproxy"}, "mark": {"type": "line", "strokeWidth": 2, "clip": true}, "encoding": {"y": {"field": "v", "type": "quantitative"}, "color": {"datum": "New Proxy", "type": "nominal"}, "strokeDash": {"datum": "New Proxy", "type": "nominal"}}}
      ]
    },
    {
      "width": 1801.6, "height": 670,
      "encoding": {"x": {"field": "t", "type": "quantitative", "scale": {"domain": [330.7, 653.1], "nice": false, "zero": false}, "axis": {"values": [360,390,420,450,480,510,540,570,600,630], "labels": false, "title": null, "grid": true, "gridColor": "#b0b0b0", "gridWidth": {"condition": {"test": "datum.value % 60 == 0", "value": 2}, "value": 1.5}, "gridDash": {"condition": {"test": "datum.value % 60 == 0", "value": [1, 0]}, "value": [7, 5]}, "tickSize": {"condition": {"test": "datum.value % 60 == 0", "value": 28}, "value": 0}}}},
      "layer": [
        {"data": {"name": "shade"}, "mark": {"type": "rect", "color": "red", "opacity": 0.055}, "encoding": {"x2": {"field": "t2"}}},
        {"data": {"name": "vlines"}, "mark": {"type": "rule", "color": "black", "strokeWidth": 2}, "encoding": {}},
        {"data": {"name": "p15"}, "mark": {"type": "line", "strokeWidth": 8, "interpolate": "step-after", "clip": true}, "encoding": {"y": {"field": "v", "type": "quantitative", "scale": {"domain": [-20, 20], "nice": false, "zero": false}, "axis": {"title": "Volt", "values": [-20, -15, -10, -5, 0, 5, 10, 15, 20], "format": "d"}}, "color": {"datum": "2P15VAVL", "type": "nominal", "scale": {"domain": ["2P15VAVL", "2N15VAVL", "2P05VAVL"], "range": ["#1f77b4", "#ff7f0e", "#2ca02c"]}, "legend": {"title": null, "orient": "top-right"}}}},
        {"data": {"name": "n15"}, "mark": {"type": "line", "strokeWidth": 8, "interpolate": "step-after", "clip": true}, "encoding": {"y": {"field": "v", "type": "quantitative"}, "color": {"datum": "2N15VAVL", "type": "nominal"}}},
        {"data": {"name": "p05"}, "mark": {"type": "line", "strokeWidth": 8, "interpolate": "step-after", "clip": true}, "encoding": {"y": {"field": "v", "type": "quantitative"}, "color": {"datum": "2P05VAVL", "type": "nominal"}}}
      ]
    },
    {
      "width": 1801.6, "height": 670,
      "encoding": {"x": {"field": "t", "type": "quantitative", "scale": {"domain": [330.7, 653.1], "nice": false, "zero": false}, "axis": {"values": [360,390,420,450,480,510,540,570,600,630], "labels": false, "title": null, "grid": true, "gridColor": "#b0b0b0", "gridWidth": {"condition": {"test": "datum.value % 60 == 0", "value": 2}, "value": 1.5}, "gridDash": {"condition": {"test": "datum.value % 60 == 0", "value": [1, 0]}, "value": [7, 5]}, "tickSize": {"condition": {"test": "datum.value % 60 == 0", "value": 28}, "value": 0}}}},
      "layer": [
        {"data": {"name": "shade"}, "mark": {"type": "rect", "color": "red", "opacity": 0.055}, "encoding": {"x2": {"field": "t2"}}},
        {"data": {"name": "vlines"}, "mark": {"type": "rule", "color": "black", "strokeWidth": 2}, "encoding": {}},
        {"data": {"name": "hvg"}, "mark": {"type": "point", "filled": true, "size": 55, "opacity": 1, "clip": true}, "encoding": {"y": {"field": "v", "type": "quantitative", "scale": {"domain": [0, 266], "nice": false, "zero": false}, "axis": {"title": "HV Monitor", "values": [0, 50, 100, 150, 200, 250], "format": "d"}}, "color": {"datum": "2IMHVLV", "type": "nominal", "scale": {"domain": ["2SPHBLV", "2SPHVLV", "2IMHVLV", "2IMHBLV"], "range": ["#1f77b4", "#ff7f0e", "#2ca02c", "#d62728"]}, "legend": {"title": null, "orient": "top-right", "symbolType": "circle", "symbolSize": 60, "symbolStrokeWidth": 0, "symbolOffset": 26, "labelOffset": 42}}}},
        {"data": {"name": "hvr"}, "mark": {"type": "point", "filled": true, "size": 55, "opacity": 1, "clip": true}, "encoding": {"y": {"field": "v", "type": "quantitative"}, "color": {"datum": "2IMHBLV", "type": "nominal"}}}
      ]
    },
    {
      "width": 1801.6, "height": 670,
      "encoding": {"x": {"field": "t", "type": "quantitative", "scale": {"domain": [330.7, 653.1], "nice": false, "zero": false}, "axis": {"values": [360,390,420,450,480,510,540,570,600,630], "labels": false, "title": null, "grid": true, "gridColor": "#b0b0b0", "gridWidth": {"condition": {"test": "datum.value % 60 == 0", "value": 2}, "value": 1.5}, "gridDash": {"condition": {"test": "datum.value % 60 == 0", "value": [1, 0]}, "value": [7, 5]}, "tickSize": {"condition": {"test": "datum.value % 60 == 0", "value": 28}, "value": 0}}}},
      "layer": [
        {"data": {"name": "shade"}, "mark": {"type": "rect", "color": "red", "opacity": 0.055}, "encoding": {"x2": {"field": "t2"}}},
        {"data": {"name": "vlines"}, "mark": {"type": "rule", "color": "black", "strokeWidth": 2}, "encoding": {}},
        {"data": {"name": "spin"}, "mark": {"type": "line", "strokeWidth": 8, "interpolate": "step-after", "clip": true}, "encoding": {"y": {"field": "v", "type": "quantitative", "scale": {"domain": [-1.1, 18.9], "nice": false, "zero": false}, "axis": {"title": "Detector Temp", "values": [0, 2.5, 5, 7.5, 10, 12.5, 15, 17.5], "format": ".1f"}}, "color": {"datum": "2SPINATM", "type": "nominal", "scale": {"domain": ["2SPINATM", "2SPHVATM", "2IMINATM", "2IMHVATM"], "range": ["#1f77b4", "#ff7f0e", "#2ca02c", "#d62728"]}, "legend": {"title": null, "orient": "top-right"}}}},
        {"data": {"name": "sphv"}, "mark": {"type": "line", "strokeWidth": 8, "interpolate": "step-after", "clip": true}, "encoding": {"y": {"field": "v", "type": "quantitative"}, "color": {"datum": "2SPHVATM", "type": "nominal"}}},
        {"data": {"name": "imin"}, "mark": {"type": "line", "strokeWidth": 8, "interpolate": "step-after", "clip": true}, "encoding": {"y": {"field": "v", "type": "quantitative"}, "color": {"datum": "2IMINATM", "type": "nominal"}}},
        {"data": {"name": "imhv"}, "mark": {"type": "line", "strokeWidth": 8, "interpolate": "step-after", "clip": true}, "encoding": {"y": {"field": "v", "type": "quantitative"}, "color": {"datum": "2IMHVATM", "type": "nominal"}}}
      ]
    },
    {
      "width": 1801.6, "height": 670,
      "encoding": {"x": {"field": "t", "type": "quantitative", "scale": {"domain": [330.7, 653.1], "nice": false, "zero": false}, "axis": {"values": [360,390,420,450,480,510,540,570,600,630], "labels": true, "labelExpr": "datum.value % 60 == 0 ? (datum.value < 600 ? '0' : '') + (datum.value / 60) + 'h' : '30'", "labelFontSize": {"condition": {"test": "datum.value % 60 == 0", "value": 27.8}, "value": 18.5}, "title": "2024-07-26 (208)", "titleFontSize": 33, "titlePadding": 4, "grid": true, "gridColor": "#b0b0b0", "gridWidth": {"condition": {"test": "datum.value % 60 == 0", "value": 2}, "value": 1.5}, "gridDash": {"condition": {"test": "datum.value % 60 == 0", "value": [1, 0]}, "value": [7, 5]}, "tickSize": {"condition": {"test": "datum.value % 60 == 0", "value": 28}, "value": 0}}}},
      "layer": [
        {"data": {"name": "shade"}, "mark": {"type": "rect", "color": "red", "opacity": 0.055}, "encoding": {"x2": {"field": "t2"}}},
        {"data": {"name": "vlines"}, "mark": {"type": "rule", "color": "black", "strokeWidth": 2}, "encoding": {}},
        {"data": {"name": "fhtr"}, "mark": {"type": "line", "strokeWidth": 8, "interpolate": "step-after", "clip": true}, "encoding": {"y": {"field": "v", "type": "quantitative", "scale": {"domain": [-10.72, 0.08], "nice": false, "zero": false}, "axis": {"title": "FEA Temp", "values": [-10, -8, -6, -4, -2, 0], "format": "d"}}, "color": {"datum": "2FHTRMZT", "type": "nominal", "scale": {"domain": ["2FHTRMZT", "2FRADPYT", "2FEPRATM", "2FE00ATM"], "range": ["#1f77b4", "#ff7f0e", "#2ca02c", "#d62728"]}, "legend": {"title": null, "orient": "bottom-right"}}}},
        {"data": {"name": "frad"}, "mark": {"type": "line", "strokeWidth": 8, "interpolate": "step-after", "clip": true}, "encoding": {"y": {"field": "v", "type": "quantitative"}, "color": {"datum": "2FRADPYT", "type": "nominal"}}},
        {"data": {"name": "fepr"}, "mark": {"type": "line", "strokeWidth": 8, "interpolate": "step-after", "clip": true}, "encoding": {"y": {"field": "v", "type": "quantitative"}, "color": {"datum": "2FEPRATM", "type": "nominal"}}},
        {"data": {"name": "fe00"}, "mark": {"type": "line", "strokeWidth": 8, "interpolate": "step-after", "clip": true}, "encoding": {"y": {"field": "v", "type": "quantitative"}, "color": {"datum": "2FE00ATM", "type": "nominal"}}}
      ]
    }
  ]
}
